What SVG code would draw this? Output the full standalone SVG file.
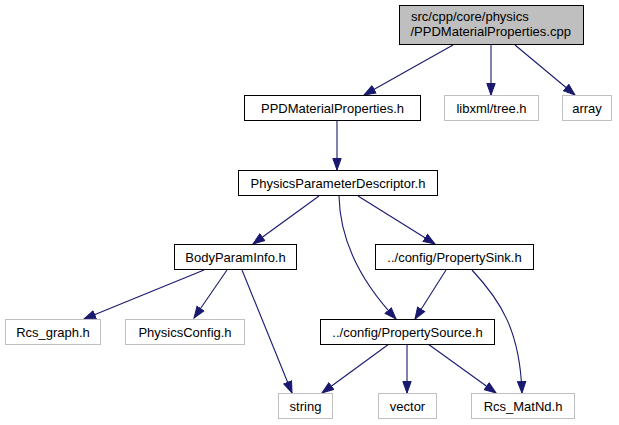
<svg xmlns="http://www.w3.org/2000/svg" width="619" height="425" viewBox="0 0 619 425">
<style>
text{font-family:"Liberation Sans",Arial,sans-serif;font-size:13px;fill:#000}
.c{text-anchor:middle}
.n rect{fill:#fff;stroke:#000;stroke-width:1}
.g rect{fill:#fff;stroke:#bfbfbf;stroke-width:1}
.e path{fill:none;stroke:#191970;stroke-width:1.1;marker-end:url(#a)}
</style>
<defs>
<marker id="a" markerUnits="userSpaceOnUse" markerWidth="14" markerHeight="11" refX="12" refY="5" orient="auto">
<path d="M0.5,0.8 L12,5 L0.5,9.2 z" fill="#191970" stroke="#191970" stroke-width="1"/>
</marker>
</defs>
<rect width="619" height="425" fill="#fff"/>
<g class="e" id="edges">
<path d="M453,45 L364,95"/>
<path d="M491,45 L491,95"/>
<path d="M515,45 L575,95"/>
<path d="M337,121 L337,170"/>
<path d="M319,196 L253,244"/>
<path d="M339,196 C340,245 366,287 396,319"/>
<path d="M358,196 L435,244"/>
<path d="M204,270 L84,319"/>
<path d="M227,270 L194,318"/>
<path d="M242,270 L292,393"/>
<path d="M446,270 L415,319"/>
<path d="M472,270 C500,300 520,330 522,393"/>
<path d="M389,344 L322,393"/>
<path d="M407,344 L407,393"/>
<path d="M428,344 L496,393"/>
</g>
<g id="node_top"><rect x="399.5" y="5.5" width="184" height="39" fill="#bfbfbf" stroke="#000"/><text x="411" y="21">src/cpp/core/physics</text><text x="410.5" y="36">/PPDMaterialProperties.cpp</text></g>
<g class="n" id="node_ppd"><rect x="244.5" y="95.5" width="176" height="25"/><text class="c" x="332.5" y="112.5">PPDMaterialProperties.h</text></g>
<g class="g" id="node_libxml"><rect x="444.5" y="95.5" width="94" height="25"/><text class="c" x="491.5" y="112.5">libxml/tree.h</text></g>
<g class="g" id="node_array"><rect x="562.5" y="95.5" width="49" height="25"/><text class="c" x="587" y="112.5">array</text></g>
<g class="n" id="node_ppdesc"><rect x="238.5" y="170.5" width="199" height="25"/><text class="c" x="338" y="187.5">PhysicsParameterDescriptor.h</text></g>
<g class="n" id="node_body"><rect x="174.5" y="244.5" width="122" height="25"/><text class="c" x="235.5" y="261.5">BodyParamInfo.h</text></g>
<g class="n" id="node_sink"><rect x="375.5" y="244.5" width="158" height="25"/><text class="c" x="454.5" y="261.5">../config/PropertySink.h</text></g>
<g class="g" id="node_rcsgraph"><rect x="5.5" y="319.5" width="95" height="25"/><text class="c" x="53" y="336.5">Rcs_graph.h</text></g>
<g class="g" id="node_physcfg"><rect x="125.5" y="319.5" width="119" height="25"/><text class="c" x="185" y="336.5">PhysicsConfig.h</text></g>
<g class="n" id="node_source"><rect x="320.5" y="319.5" width="174" height="25"/><text class="c" x="407.5" y="336.5">../config/PropertySource.h</text></g>
<g class="g" id="node_string"><rect x="278.5" y="393.5" width="54" height="25"/><text class="c" x="305.5" y="410.5">string</text></g>
<g class="g" id="node_vector"><rect x="378.5" y="393.5" width="58" height="25"/><text class="c" x="407.5" y="410.5">vector</text></g>
<g class="g" id="node_matnd"><rect x="471.5" y="393.5" width="103" height="25"/><text class="c" x="523" y="410.5">Rcs_MatNd.h</text></g>
</svg>
